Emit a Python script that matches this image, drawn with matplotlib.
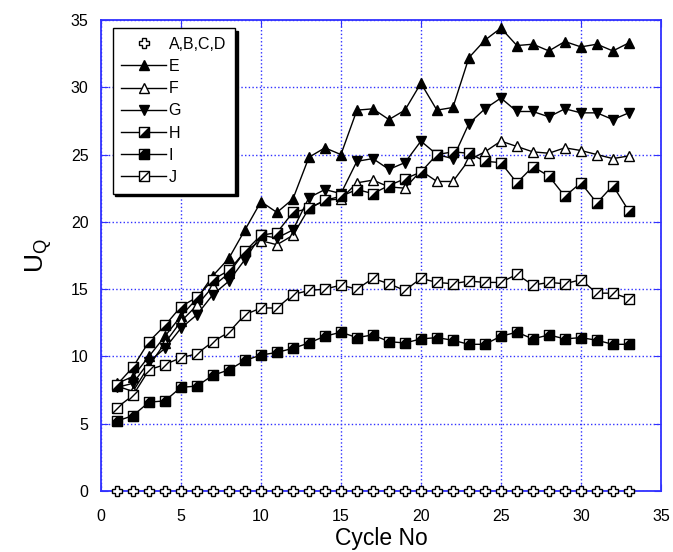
import matplotlib
matplotlib.use("Agg")
import matplotlib.pyplot as plt
from matplotlib.path import Path
from matplotlib.legend_handler import HandlerTuple

plt.rcParams['font.family'] = ['Liberation Sans', 'DejaVu Sans']

cycles = list(range(1, 34))
abcd = [0.0] * 33
E = [8.0, 8.5, 10.0, 11.5, 13.0, 14.3, 16.0, 17.3, 19.4, 21.5, 20.7, 21.7, 24.8, 25.5, 25.0,
     28.3, 28.4, 27.6, 28.3, 30.3, 28.3, 28.5, 32.2, 33.5, 34.4, 33.1, 33.2, 32.7, 33.4, 33.0,
     33.2, 32.7, 33.3]
F = [7.8, 7.4, 9.3, 11.0, 12.6, 13.8, 15.2, 16.2, 17.8, 18.6, 18.3, 19.0, 21.0, 21.6, 21.7,
     22.9, 23.1, 22.6, 22.5, 23.8, 23.0, 23.0, 24.6, 25.2, 26.0, 25.6, 25.2, 25.1, 25.5, 25.3,
     25.0, 24.7, 24.9]
G = [7.7, 8.0, 9.6, 10.6, 12.1, 13.1, 14.6, 15.6, 17.2, 19.0, 18.8, 19.4, 21.8, 22.4, 22.1,
     24.5, 24.7, 23.9, 24.4, 26.0, 25.0, 24.7, 27.3, 28.4, 29.2, 28.2, 28.2, 27.8, 28.4, 28.1,
     28.1, 27.6, 28.1]
H = [7.9, 9.2, 11.1, 12.3, 13.7, 14.4, 15.7, 16.4, 17.8, 19.0, 19.2, 20.7, 21.0, 21.6, 21.9,
     22.4, 22.1, 22.7, 23.2, 23.7, 25.0, 25.2, 25.1, 24.5, 24.4, 22.9, 24.1, 23.4, 21.9, 22.9,
     21.4, 22.7, 20.8]
I = [5.2, 5.6, 6.6, 6.7, 7.7, 7.8, 8.6, 9.0, 9.7, 10.1, 10.3, 10.6, 11.0, 11.5, 11.8,
     11.4, 11.6, 11.1, 11.0, 11.3, 11.4, 11.2, 10.9, 10.9, 11.5, 11.8, 11.3, 11.6, 11.3, 11.4,
     11.2, 10.9, 10.9]
J = [6.2, 7.1, 9.0, 9.4, 9.9, 10.2, 11.1, 11.8, 13.1, 13.6, 13.6, 14.6, 14.9, 15.0, 15.3,
     15.0, 15.8, 15.4, 14.9, 15.8, 15.5, 15.4, 15.6, 15.5, 15.5, 16.1, 15.3, 15.5, 15.4, 15.7,
     14.7, 14.7, 14.3]

fig = plt.figure(figsize=(6.73, 5.52), dpi=100)
ax = fig.add_axes([0.150, 0.1105, 0.832, 0.8533])

blue = '#3030ff'
ms = 7

sq = Path([(-1, -1), (1, -1), (1, 1), (-1, 1), (-1, -1)])
tri_lr = Path([(-1, -1), (1, -1), (1, 1), (-1, -1)])
pent = Path([(-1, -1), (1, -1), (1, 1), (0, 1), (-1, 0), (-1, -1)])
diag = Path([(-1, -1), (1, 1)], [Path.MOVETO, Path.LINETO])

handles = []
h0, = ax.plot(cycles, abcd, linestyle='none', marker='P', markersize=7.5,
              markerfacecolor='white', markeredgecolor='black', markeredgewidth=1,
              clip_on=False, zorder=5)
handles.append(h0)

hE, = ax.plot(cycles, E, color='black', lw=1, marker='^', markersize=ms,
              markerfacecolor='black', markeredgecolor='black', zorder=4)
hF, = ax.plot(cycles, F, color='black', lw=1, marker='^', markersize=ms,
              markerfacecolor='white', markeredgecolor='black', zorder=4)
hG, = ax.plot(cycles, G, color='black', lw=1, marker='v', markersize=ms,
              markerfacecolor='black', markeredgecolor='black', zorder=4)
handles += [hE, hF, hG]

for data, overlay in [(H, tri_lr), (I, pent), (J, diag)]:
    base, = ax.plot(cycles, data, color='black', lw=1, marker=sq, markersize=ms,
                    markerfacecolor='white', markeredgecolor='black', markeredgewidth=1, zorder=4)
    top, = ax.plot(cycles, data, linestyle='none', marker=overlay, markersize=ms,
                   markerfacecolor='black', markeredgecolor='black', markeredgewidth=1, zorder=4.5)
    handles.append((base, top))

labels = ['A,B,C,D', 'E', 'F', 'G', 'H', 'I', 'J']

ax.set_xlim(0, 35)
ax.set_ylim(0, 35)
ax.set_xticks(range(0, 36, 5))
ax.set_yticks(range(0, 36, 5))
ax.grid(True, color=blue, linestyle=':', linewidth=1)
ax.set_axisbelow(True)
for s in ax.spines.values():
    s.set_color(blue)
    s.set_linewidth(1.3)
ax.tick_params(direction='in', color=blue, length=5, labelsize=11.5, labelcolor='black',
               top=True, right=True)
ax.tick_params(axis='x', pad=13)
ax.tick_params(axis='y', pad=9)

ax.set_xlabel('Cycle No', fontsize=16.5, labelpad=2)
ax.set_ylabel(r'U$_\mathregular{Q}$', fontsize=19, labelpad=12)

leg = ax.legend(handles, labels, loc='upper left', bbox_to_anchor=(0.021, 0.983),
                borderaxespad=0,
                handler_map={tuple: HandlerTuple(ndivide=1)}, numpoints=1,
                fancybox=False, shadow={'color': 'black', 'alpha': 1},
                edgecolor='black', framealpha=1, fontsize=11.5, handlelength=2.8,
                borderpad=0.55, labelspacing=0.45, handletextpad=0.15)
leg.get_frame().set_linewidth(1)
fig.savefig('out.png', dpi=100)
